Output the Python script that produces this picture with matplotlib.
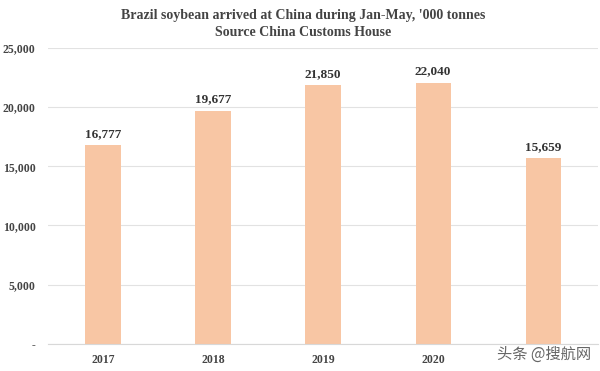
import matplotlib.pyplot as plt
import numpy as np

years = ['2017', '2018', '2019', '2020', '']
volumes = [16777, 19677, 21850, 22040, 15659]
yticks = [0, 5000, 10000, 15000, 20000, 25000]
ytick_labels = ['-', '5,000', '10,000', '15,000', '20,000', '25,000']

plt.rcParams['font.family'] = ['Liberation Serif', 'DejaVu Serif']

fig = plt.figure(figsize=(6, 3.71), dpi=100)
ax = fig.add_axes([0.08, 0.073, 0.917, 0.798])

x = np.arange(len(volumes))
ax.bar(x, volumes, width=0.32, color='#F8C6A4', zorder=2)
for xi, v in zip(x, volumes):
    ax.text(xi, v + 450, f'{v:,}', ha='center', va='bottom', fontsize=9.5,
            fontweight='bold', color='#333333')

ax.set_xlim(-0.5, len(volumes) - 0.5)
ax.set_ylim(0, 25000)
ax.set_yticks(yticks)
ax.set_yticklabels(ytick_labels, fontsize=8.5, fontweight='bold', color='#444444')
ax.set_xticks(x)
ax.set_xticklabels(years, fontsize=8.5, fontweight='bold', color='#444444')
ax.tick_params(axis='y', length=0, pad=9)
ax.tick_params(axis='x', length=0, pad=7)
ax.grid(axis='y', color='#e2e2e2', linewidth=0.8, zorder=0)
for s in ['top', 'right', 'left']:
    ax.spines[s].set_visible(False)
ax.spines['bottom'].set_color('#d8d8d8')

fig.text(0.505, 0.958, "Brazil soybean arrived at China during Jan-May, '000 tonnes",
         ha='center', va='center', fontsize=10, fontweight='bold', color='#444444')
fig.text(0.505, 0.913, 'Source China Customs House',
         ha='center', va='center', fontsize=10, fontweight='bold', color='#444444')

fig.text(0.985, 0.045, '头条 @搜航网', ha='right', va='center', fontsize=11,
         color='#666666', family=['Noto Sans CJK SC', 'DejaVu Sans'])

fig.savefig('out.png', dpi=100)
